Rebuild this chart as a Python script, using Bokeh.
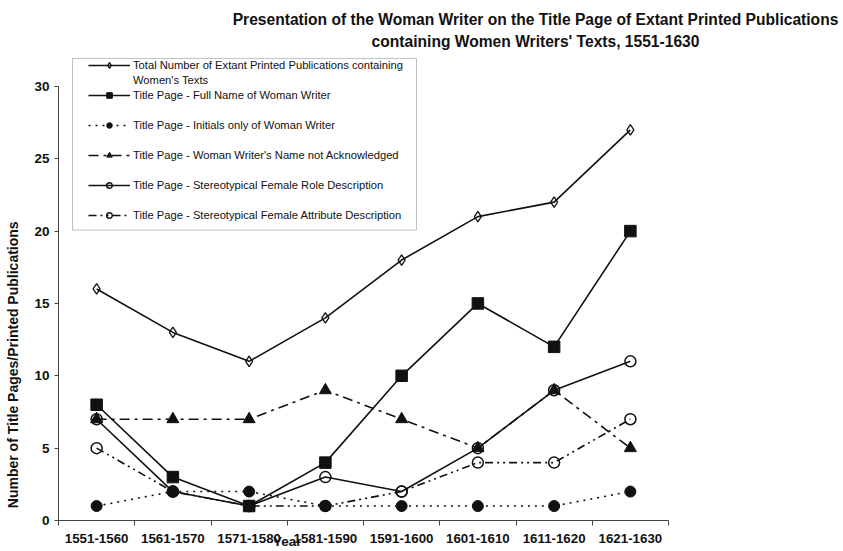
import numpy as np
from bokeh.plotting import figure
from bokeh.models import (Range1d, FixedTicker, Legend, LegendItem, BoxAnnotation, LinearAxis)
from bokeh.core.properties import value
from bokeh.embed import file_html
from bokeh.resources import INLINE

# ---------------- data ----------------
categories = ["1551-1560", "1561-1570", "1571-1580", "1581-1590",
              "1591-1600", "1601-1610", "1611-1620", "1621-1630"]
total_publications = [16, 13, 11, 14, 18, 21, 22, 27]
full_name = [8, 3, 1, 4, 10, 15, 12, 20]
initials_only = [1, 2, 2, 1, 1, 1, 1, 2]
name_not_acknowledged = [7, 7, 7, 9, 7, 5, 9, 5]
role_description = [7, 2, 1, 3, 2, 5, 9, 11]
attribute_description = [5, 2, 1, 1, 2, 4, 4, 7]
y_ticks = [0, 5, 10, 15, 20, 25, 30]

label_total_1 = "Total Number of Extant Printed Publications containing"
label_total_2 = "Women's Texts"
label_full = "Title Page - Full Name of Woman Writer"
label_initials = "Title Page - Initials only of Woman Writer"
label_notack = "Title Page - Woman Writer's Name not Acknowledged"
label_role = "Title Page - Stereotypical Female Role Description"
label_attr = "Title Page - Stereotypical Female Attribute Description"

title_1 = "Presentation of the Woman Writer on the Title Page of Extant Printed Publications"
title_2 = "containing Women Writers' Texts, 1551-1630"
x_title = "Year"
y_title = "Number of Title Pages/Printed Publications"

# ---------------- layout constants ----------------
TITLE_X = 6.756      # horizontal centre of the chart title (x data units)
XTITLE_X = 3.5       # centre of "Year"
YTITLE_Y = 10.76     # centre of the y-axis title (y data units)

pos = np.arange(1, len(categories) + 1)
FONT = "Liberation Sans"
INK = "#111111"
AXIS = "#444444"

p = figure(width=843, height=551, output_backend="svg", toolbar_location=None,
           x_range=Range1d(0.5, len(categories) + 0.5), y_range=Range1d(0, 32.48),
           min_border_left=58, min_border_right=175, min_border_top=50, min_border_bottom=30)
p.outline_line_color = None
p.grid.visible = False
p.background_fill_color = "white"
p.border_fill_color = "white"

# x axis: labels at category centres, ticks at category boundaries
p.xaxis.ticker = FixedTicker(ticks=list(pos), minor_ticks=list(np.append(pos - 0.5, pos[-1] + 0.5)))
p.xaxis.major_label_overrides = {int(i): c for i, c in zip(pos, categories)}
p.xaxis.major_tick_out = 0
p.xaxis.major_tick_in = 0
p.xaxis.minor_tick_out = 5
p.xaxis.minor_tick_in = 0
p.xaxis.minor_tick_line_color = AXIS
p.xaxis.axis_line_color = AXIS
p.xaxis.major_label_standoff = 8
p.xaxis.major_label_text_font = FONT
p.xaxis.major_label_text_font_size = "13.3px"
p.xaxis.major_label_text_font_style = "bold"
p.xaxis.major_label_text_color = INK

p.yaxis.ticker = FixedTicker(ticks=y_ticks, minor_ticks=[])
p.yaxis.bounds = (y_ticks[0], y_ticks[-1])
p.yaxis.major_tick_out = 4
p.yaxis.major_tick_in = 0
p.yaxis.major_tick_line_color = AXIS
p.yaxis.axis_line_color = AXIS
p.yaxis.major_label_standoff = 5
p.yaxis.major_label_text_font = FONT
p.yaxis.major_label_text_font_size = "13.5px"
p.yaxis.major_label_text_font_style = "bold"
p.yaxis.major_label_text_color = INK


def text_axis(side, text, at, size, standoff, orientation="horizontal"):
    """A line-less, tick-less axis whose single tick label is a title placed at `at`."""
    ax = LinearAxis(ticker=FixedTicker(ticks=[at], minor_ticks=[]),
                    major_label_overrides={at: text}, major_label_orientation=orientation,
                    axis_line_color=None, major_tick_line_color=None, minor_tick_line_color=None,
                    major_tick_out=0, major_tick_in=0, minor_tick_out=0, minor_tick_in=0,
                    major_label_standoff=standoff, major_label_text_font=FONT,
                    major_label_text_font_size=size, major_label_text_font_style="bold",
                    major_label_text_color=INK)
    p.add_layout(ax, side)


text_axis("left", y_title, YTITLE_Y, "14px", 10, orientation="vertical")
text_axis("below", x_title, XTITLE_X, "13.5px", -12)
text_axis("above", title_2, TITLE_X, "15.6px", 1)
text_axis("above", title_1, TITLE_X, "15.6px", 2)

# legend frame (drawn first, under legend)
p.add_layout(BoxAnnotation(left=0.684, right=5.195, top=31.93, bottom=20.07,
                           fill_color="white", fill_alpha=1.0,
                           line_color="#333333", line_width=1))

LW = 1.6
r_total_l = p.line(pos, total_publications, line_color=INK, line_width=LW)
r_total_m = p.scatter(pos, total_publications, marker="diamond", size=10.5,
                      fill_color=None, line_color=INK, line_width=1.3)

r_full_l = p.line(pos, full_name, line_color=INK, line_width=LW)
r_full_m = p.scatter(pos, full_name, marker="square", size=11.5, fill_color=INK, line_color=INK)

r_init_l = p.line(pos, initials_only, line_color=INK, line_width=LW, line_dash="2 5")
r_init_m = p.scatter(pos, initials_only, marker="circle", size=11, fill_color=INK, line_color=INK)

r_na_l = p.line(pos, name_not_acknowledged, line_color=INK, line_width=LW, line_dash="10 5 3 5")
r_na_m = p.scatter(pos, name_not_acknowledged, marker="triangle", size=12, fill_color=INK, line_color=INK)

r_role_l = p.line(pos, role_description, line_color=INK, line_width=LW)
r_role_m = p.scatter(pos, role_description, marker="circle", size=11,
                     fill_color=None, line_color=INK, line_width=1.5)

r_attr_l = p.line(pos, attribute_description, line_color=INK, line_width=LW, line_dash="8 4 2 4 2 4")
r_attr_m = p.scatter(pos, attribute_description, marker="circle", size=11,
                     fill_color=None, line_color=INK, line_width=1.5)

# invisible renderer used only for legend spacer rows / the wrapped second text line
blank = p.scatter([], [], marker="circle", size=1, fill_alpha=0, line_alpha=0)

items = [
    LegendItem(label=value(label_total_1), renderers=[r_total_l, r_total_m]),
    LegendItem(label=value(label_total_2), renderers=[blank]),
    LegendItem(label=value(label_full), renderers=[r_full_l, r_full_m]),
    LegendItem(label=value(" "), renderers=[blank]),
    LegendItem(label=value(label_initials), renderers=[r_init_l, r_init_m]),
    LegendItem(label=value(" "), renderers=[blank]),
    LegendItem(label=value(label_notack), renderers=[r_na_l, r_na_m]),
    LegendItem(label=value(" "), renderers=[blank]),
    LegendItem(label=value(label_role), renderers=[r_role_l, r_role_m]),
    LegendItem(label=value(" "), renderers=[blank]),
    LegendItem(label=value(label_attr), renderers=[r_attr_l, r_attr_m]),
]
legend = Legend(items=items, location=(30, 298), orientation="vertical",
                padding=0, spacing=1, margin=0,
                glyph_width=42, glyph_height=14, label_height=14, label_standoff=3,
                label_text_font=FONT, label_text_font_size="11.2px", label_text_color=INK,
                border_line_alpha=0, background_fill_alpha=0)
p.add_layout(legend)

open("out.html", "w").write(file_html(p, INLINE))
